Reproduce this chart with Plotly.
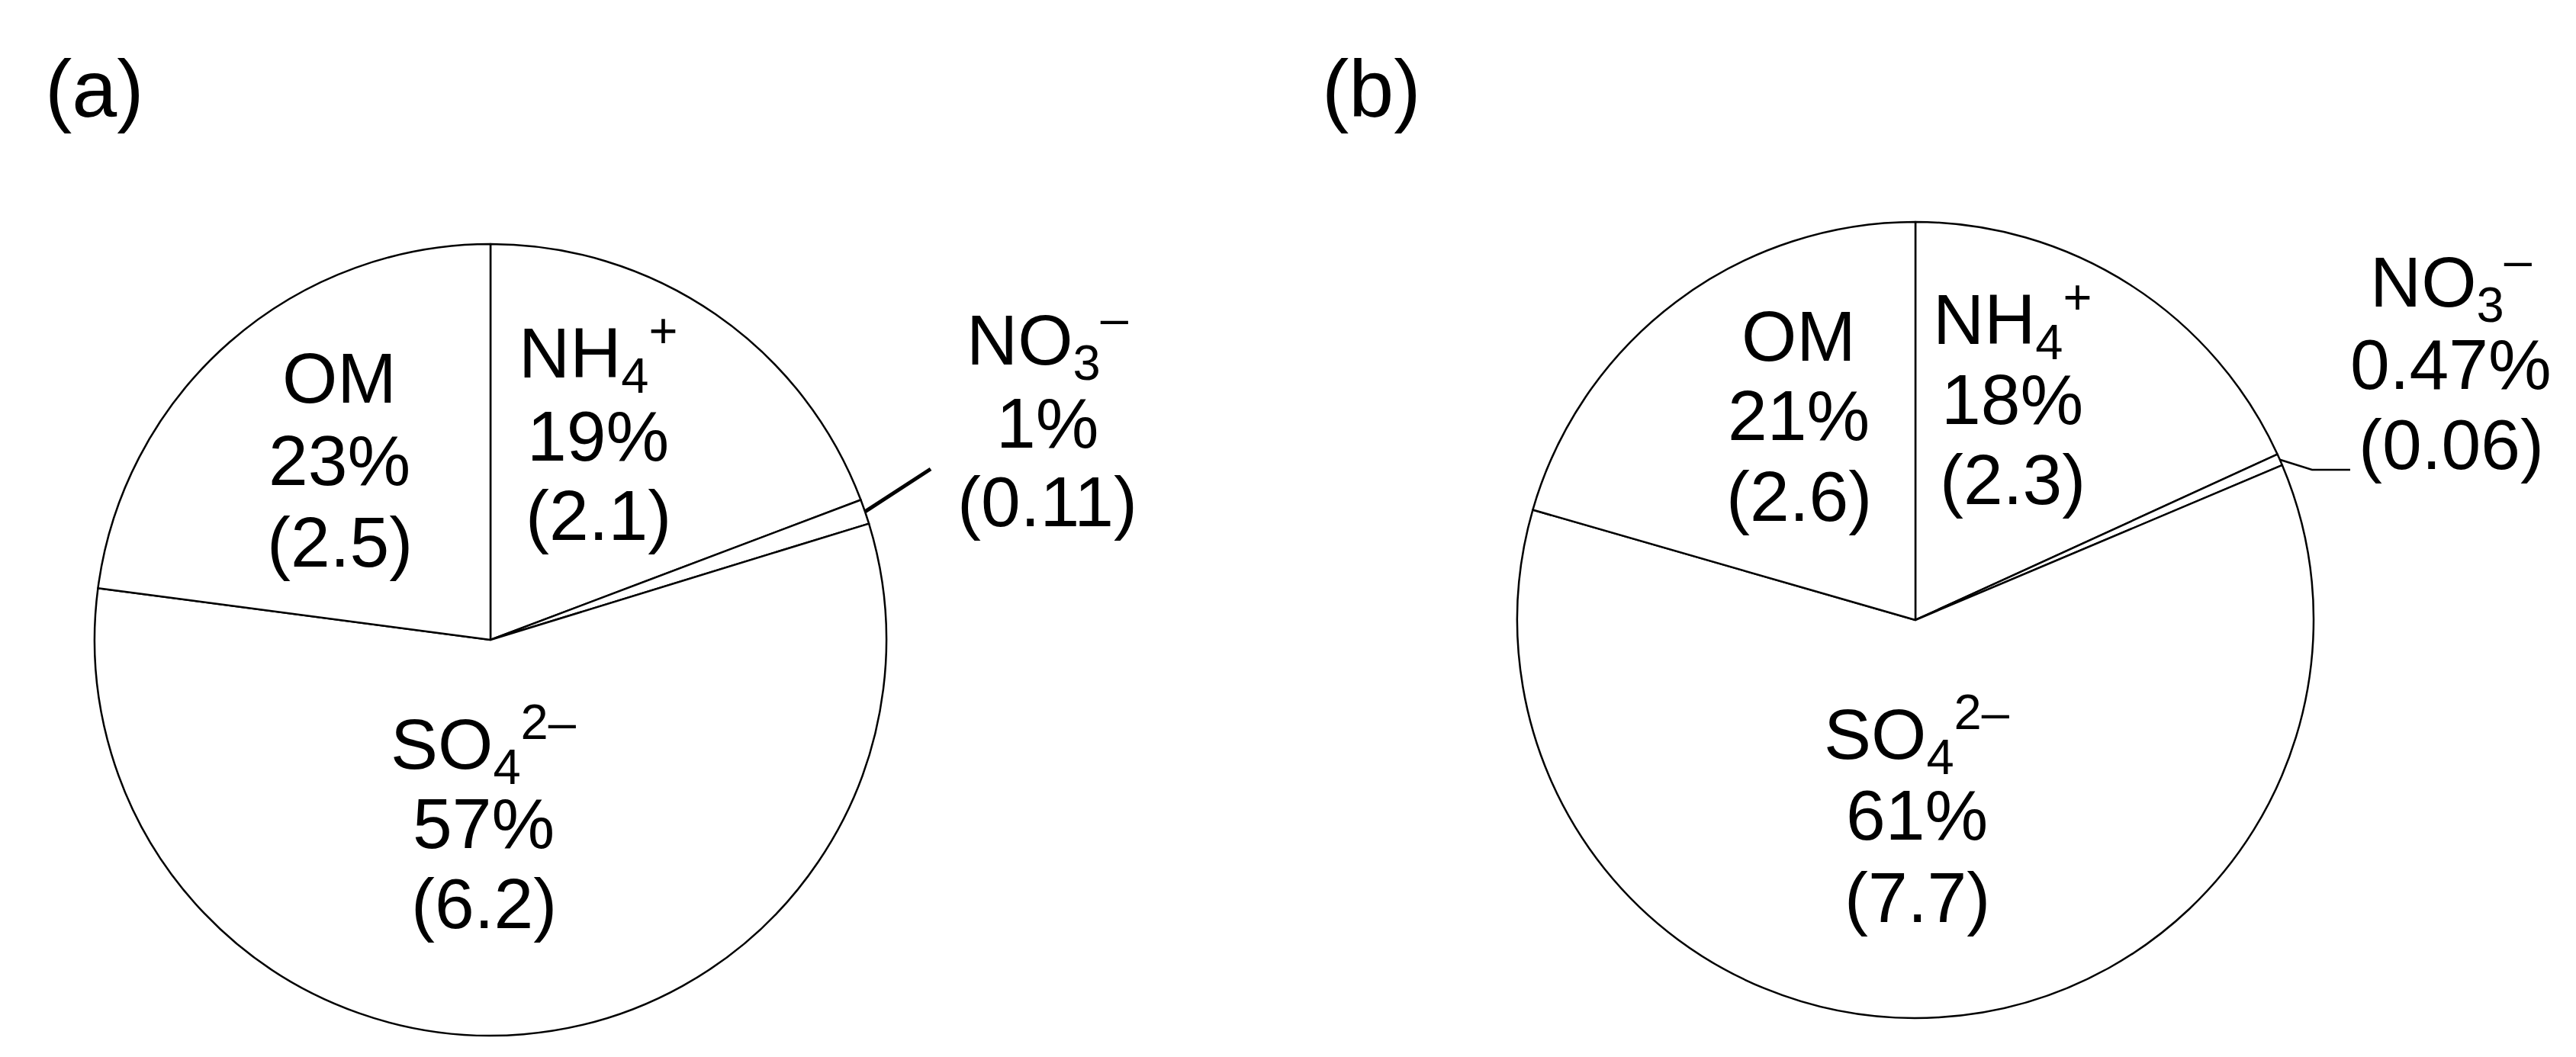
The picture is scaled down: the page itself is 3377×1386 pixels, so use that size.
import math
import plotly.graph_objects as go

# Aerosol composition, two panels (mass in parentheses, ug/m3)
species = ["NH<sub>4</sub><sup>+</sup>", "NO<sub>3</sub><sup>–</sup>",
           "SO<sub>4</sub><sup>2–</sup>", "OM"]

mass_a = [2.1, 0.11, 6.2, 2.5]
pct_a = ["19%", "1%", "57%", "23%"]

mass_b = [2.3, 0.06, 7.7, 2.6]
pct_b = ["18%", "0.47%", "61%", "21%"]

panel_labels = ["(a)", "(b)"]

W, H = 3377, 1386
FONT = "Liberation Sans, Arial, sans-serif"


def px(x):
    return x / W


def py(y):
    return 1 - y / H


def edge_point(values, idx, cx, cy, r):
    """Pixel position on the rim, at the middle of slice idx (clockwise from 12 o'clock)."""
    tot = sum(values)
    frac = (sum(values[:idx]) + values[idx] / 2) / tot
    th = 2 * math.pi * frac
    return cx + r * math.sin(th), cy - r * math.cos(th)


# pie geometry in pixels: centre x, centre y, radius
geo_a = (635, 831, 519)
geo_b = (2503, 805, 522)

# label anchor per slice: x centre, y of each of the three lines
lab_a = [(776, [455, 564, 668]), (1365, [438, 547, 650]),
         (626, [968, 1072, 1177]), (437, [488, 596, 703])]
lab_b = [(2630, [411, 516, 621]), (3205, [362, 470, 575]),
         (2505, [955, 1061, 1169]), (2350, [433, 537, 643])]

fig = go.Figure()

annotations = []
shapes = []

for mass, pct, geo, labs, plab, plab_x in [
        (mass_a, pct_a, geo_a, lab_a, panel_labels[0], 116),
        (mass_b, pct_b, geo_b, lab_b, panel_labels[1], 1790)]:
    cx, cy, r = geo
    fig.add_trace(go.Pie(
        values=mass,
        labels=species,
        sort=False,
        direction="clockwise",
        rotation=0,
        textinfo="none",
        hoverinfo="label+value+percent",
        marker=dict(colors=["white"] * len(mass),
                    line=dict(color="black", width=2.5)),
        domain=dict(x=[px(cx - r), px(cx + r)], y=[py(cy + r), py(cy - r)]),
        showlegend=False,
    ))

    for i, (lx, lys) in enumerate(labs):
        lines = [species[i], pct[i], f"({mass[i]})"]
        for t, ly in zip(lines, lys):
            annotations.append(dict(
                text=t, x=px(lx), y=py(ly), xref="paper", yref="paper",
                xanchor="center", yanchor="middle", showarrow=False,
                font=dict(family=FONT, size=93, color="black"),
            ))

    annotations.append(dict(
        text=plab, x=px(plab_x), y=py(108), xref="paper", yref="paper",
        xanchor="center", yanchor="middle", showarrow=False,
        font=dict(family=FONT, size=106, color="black"),
    ))

# leader lines for the tiny NO3- slices
x0, y0 = edge_point(mass_a, 1, *geo_a)
shapes.append(dict(type="line", xref="paper", yref="paper",
                   x0=px(x0), y0=py(y0), x1=px(1212), y1=py(607),
                   line=dict(color="black", width=5)))

x0, y0 = edge_point(mass_b, 1, *geo_b)
shapes.append(dict(type="path", xref="paper", yref="paper",
                   path=f"M {px(x0)},{py(y0)} L {px(3023)},{py(608)} L {px(3073)},{py(608)}",
                   line=dict(color="black", width=2.5)))

fig.update_layout(
    width=W,
    height=H,
    autosize=False,
    margin=dict(l=0, r=0, t=0, b=0),
    paper_bgcolor="white",
    plot_bgcolor="white",
    annotations=annotations,
    shapes=shapes,
)

fig.write_html("out.html")
